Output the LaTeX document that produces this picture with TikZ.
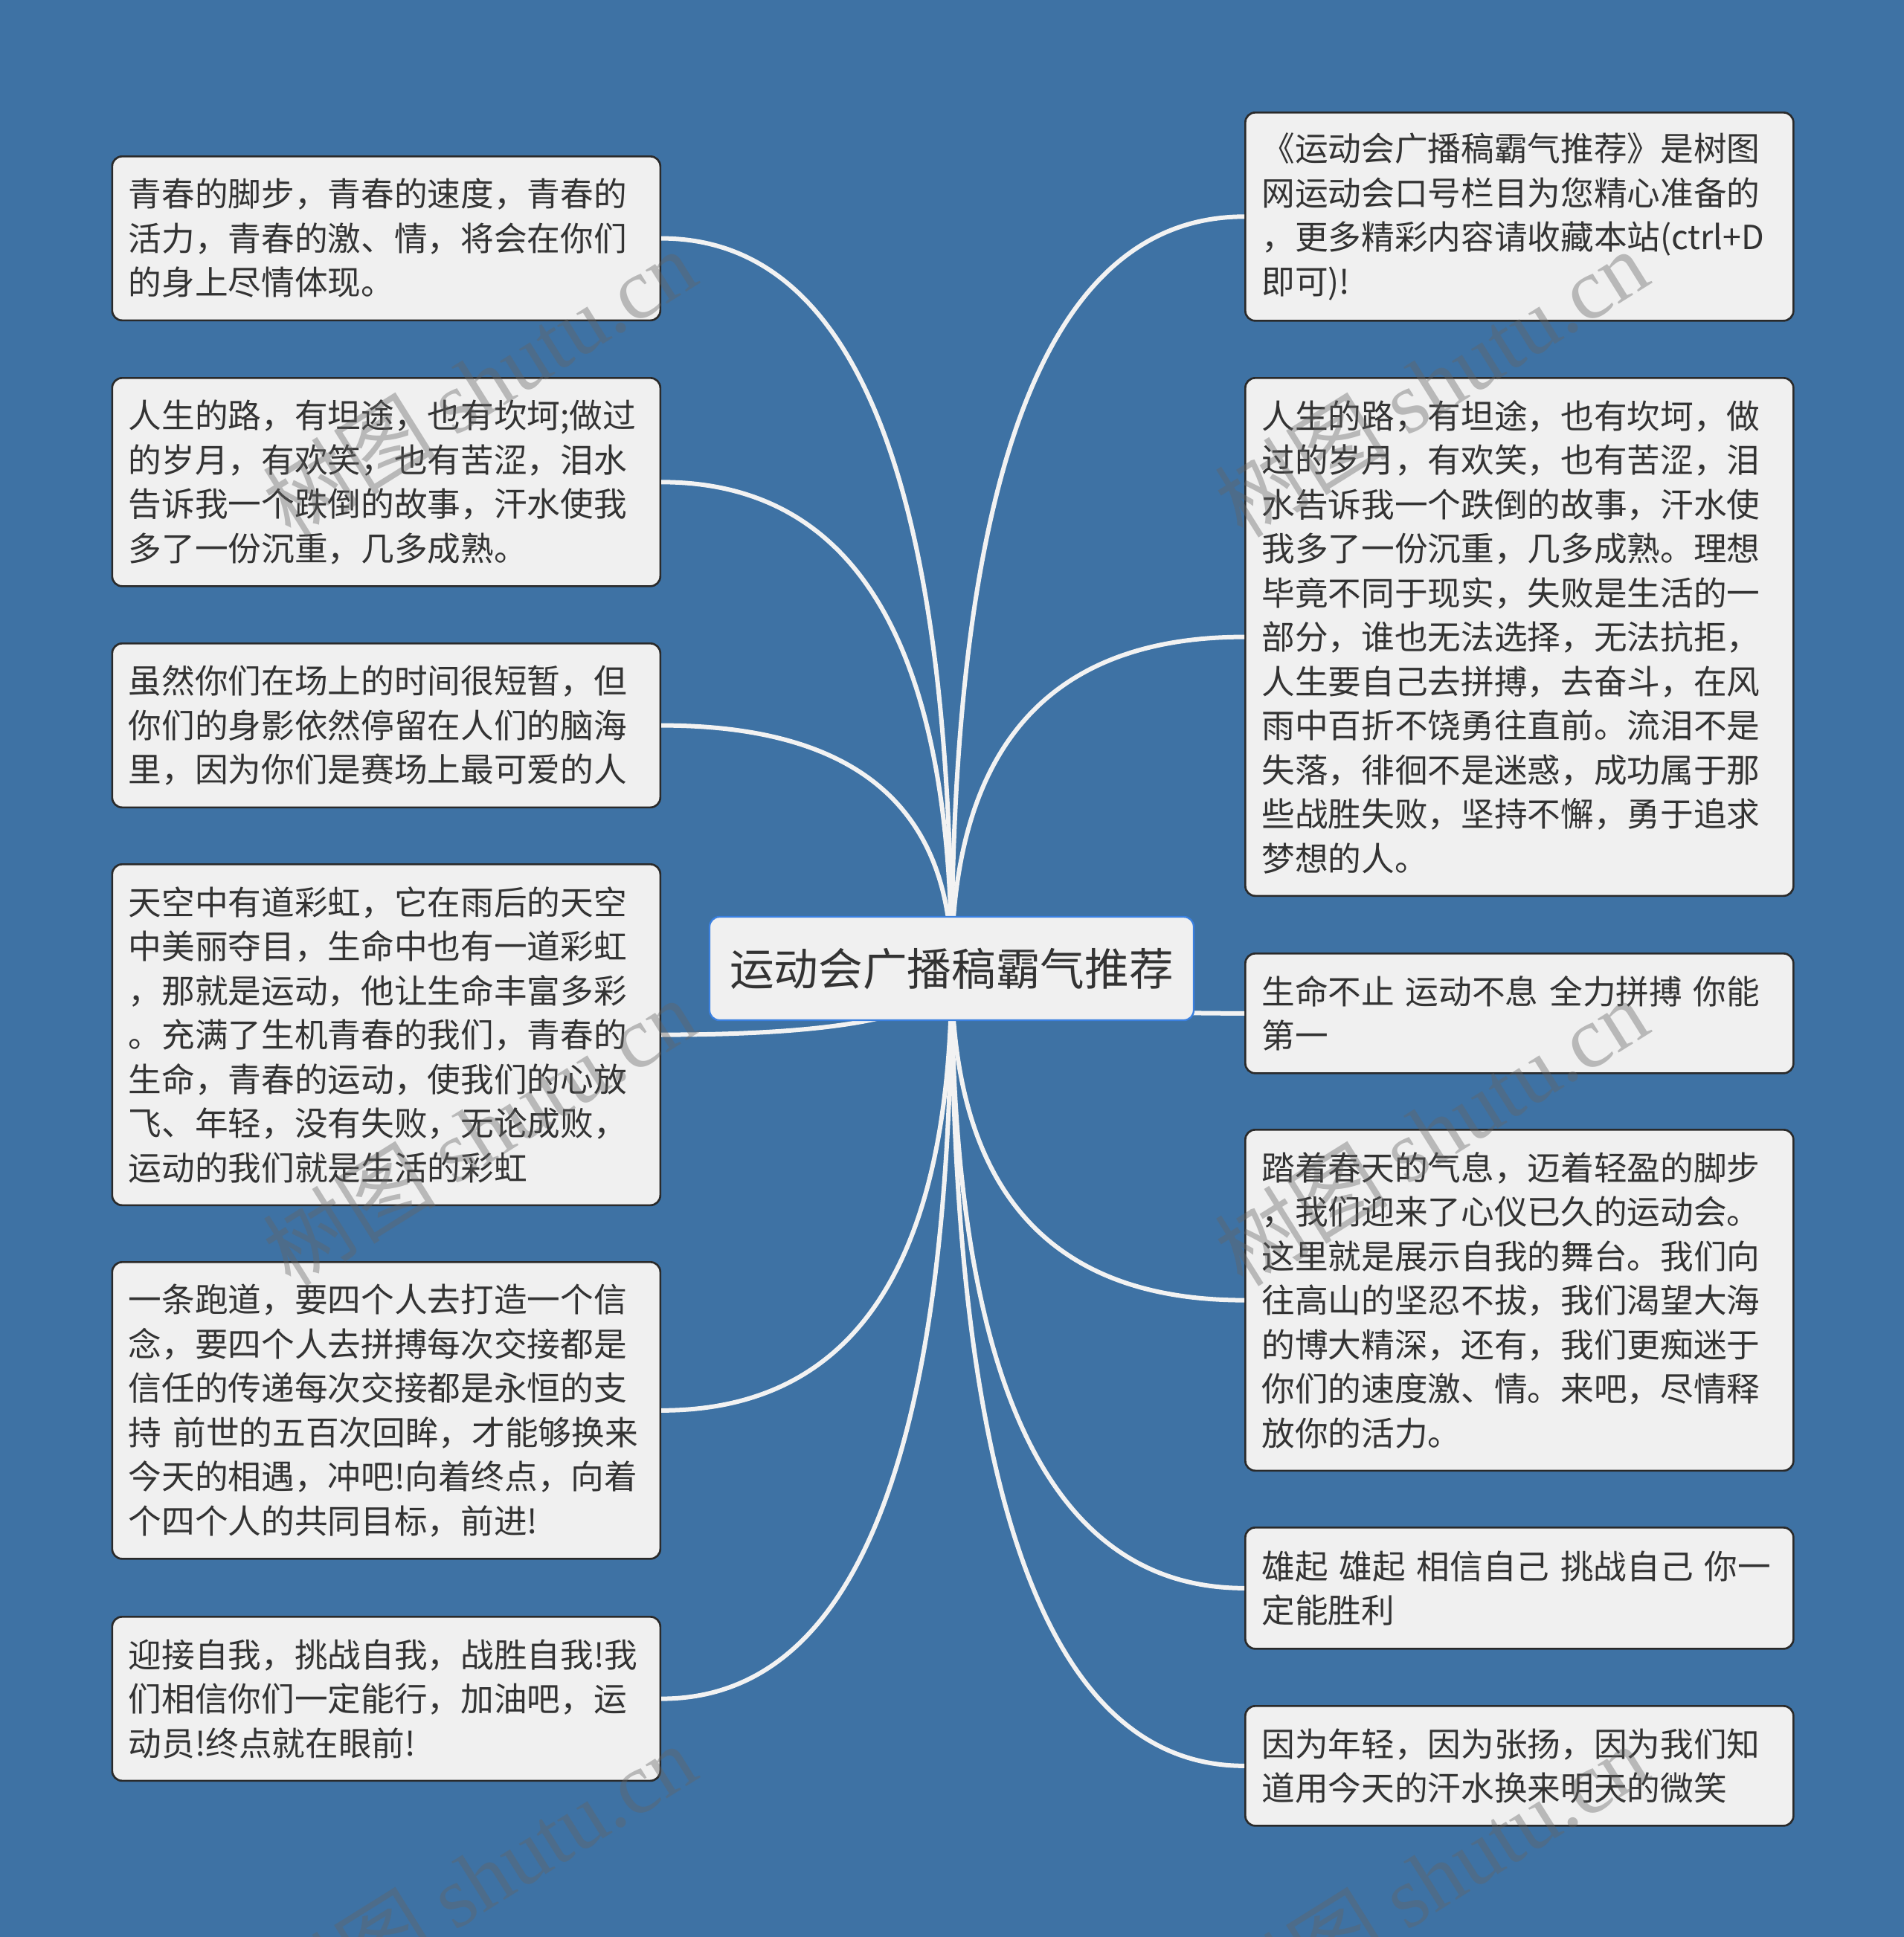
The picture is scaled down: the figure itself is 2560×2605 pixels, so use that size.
\documentclass[tikz,border=0pt]{standalone}
\usepackage{fontspec}
\setmainfont{Noto Sans CJK SC}
\newfontfamily\wmlatin{Liberation Serif}
\usetikzlibrary{calc}
\definecolor{bgblue}{HTML}{3E72A4}
\definecolor{boxfill}{HTML}{F0F0F0}
\definecolor{boxborder}{HTML}{2A2A2A}
\definecolor{rootborder}{HTML}{3A80E0}
\definecolor{txtcol}{HTML}{333333}
\definecolor{linecol}{HTML}{F2F2F2}
\definecolor{wmcol}{HTML}{646464}
\begin{document}
\begin{tikzpicture}[x=0.3pt,y=-0.3pt,
  box/.style={draw=boxborder, line width=0.8pt, fill=boxfill, rounded corners=4pt,
    anchor=north west, text width=207.9pt, inner xsep=6.6pt, inner ysep=0pt,
    align=left, text=txtcol, font=\fontsize{13.4pt}{17.85pt}\selectfont},
  rootbox/.style={draw=rootborder, line width=0.7pt, fill=boxfill, rounded corners=4pt,
    minimum width=195.3pt, minimum height=41.7pt, inner sep=0pt, text=txtcol,
    font=\fontsize{17.9pt}{21pt}\selectfont},
  conn/.style={draw=linecol, line width=1.8pt},
  wm/.style={text=wmcol, opacity=0.4, font=\fontsize{35pt}{38pt}\selectfont, inner sep=0pt}
]
\fill[bgblue] (0,0) rectangle (2560,2605);
\useasboundingbox (0,0) rectangle (2560,2605);

% root centre
\coordinate (rc) at (1279.5,1302.5);

% left boxes
\node[box, minimum height=66.15pt] (L1) at (149.5,209) {青春的脚步，青春的速度，青春的\\活力，青春的激、情，将会在你们\\的身上尽情体现。};
\node[box, minimum height=84pt] (L2) at (149.5,507) {人生的路，有坦途，也有坎坷;做过\\的岁月，有欢笑，也有苦涩，泪水\\告诉我一个跌倒的故事，汗水使我\\多了一份沉重，几多成熟。};
\node[box, minimum height=66.15pt] (L3) at (149.5,864) {虽然你们在场上的时间很短暂，但\\你们的身影依然停留在人们的脑海\\里，因为你们是赛场上最可爱的人};
\node[box, minimum height=137.55pt] (L4) at (149.5,1161) {天空中有道彩虹，它在雨后的天空\\中美丽夺目，生命中也有一道彩虹\\，那就是运动，他让生命丰富多彩\\。充满了生机青春的我们，青春的\\生命，青春的运动，使我们的心放\\飞、年轻，没有失败，无论成败，\\运动的我们就是生活的彩虹};
\node[box, minimum height=119.7pt] (L5) at (149.5,1696) {一条跑道，要四个人去打造一个信\\念，要四个人去拼搏每次交接都是\\信任的传递每次交接都是永恒的支\\持~前世的五百次回眸，才能够换来\\今天的相遇，冲吧!向着终点，向着\\个四个人的共同目标，前进!};
\node[box, minimum height=66.15pt] (L6) at (149.5,2173) {迎接自我，挑战自我，战胜自我!我\\们相信你们一定能行，加油吧，运\\动员!终点就在眼前!};

% right boxes
\node[box, minimum height=84pt] (R1) at (1673,150) {《运动会广播稿霸气推荐》是树图\\网运动会口号栏目为您精心准备的\\，更多精彩内容请收藏本站(ctrl+D\\即可)!};
\node[box, minimum height=208.95pt] (R2) at (1673,507) {人生的路，有坦途，也有坎坷，做\\过的岁月，有欢笑，也有苦涩，泪\\水告诉我一个跌倒的故事，汗水使\\我多了一份沉重，几多成熟。理想\\毕竟不同于现实，失败是生活的一\\部分，谁也无法选择，无法抗拒，\\人生要自己去拼搏，去奋斗，在风\\雨中百折不饶勇往直前。流泪不是\\失落，徘徊不是迷惑，成功属于那\\些战胜失败，坚持不懈，勇于追求\\梦想的人。};
\node[box, minimum height=48.3pt] (R3) at (1673,1281) {生命不止~运动不息~全力拼搏~你能\\第一};
\node[box, minimum height=137.55pt] (R4) at (1673,1518) {踏着春天的气息，迈着轻盈的脚步\\，我们迎来了心仪已久的运动会。\\这里就是展示自我的舞台。我们向\\往高山的坚忍不拔，我们渴望大海\\的博大精深，还有，我们更痴迷于\\你们的速度激、情。来吧，尽情释\\放你的活力。};
\node[box, minimum height=48.9pt] (R5) at (1673,2053) {雄起~雄起~相信自己~挑战自己~你一\\定能胜利};
\node[box, minimum height=48.3pt] (R6) at (1673,2293) {因为年轻，因为张扬，因为我们知\\道用今天的汗水换来明天的微笑};

% connectors (drawn before the root so the root covers their start)
\foreach \n in {L1,L2,L3,L4,L5,L6}{
  \draw[conn] (rc) .. controls ($(rc)!0.667!(rc |- \n.east)$) and ($(\n.east)!0.667!(rc |- \n.east)$) .. (\n.east);
}
\foreach \n in {R1,R2,R3,R4,R5,R6}{
  \draw[conn] (rc) .. controls ($(rc)!0.667!(rc |- \n.west)$) and ($(\n.west)!0.667!(rc |- \n.west)$) .. (\n.west);
}

\node[rootbox] (root) at (rc) {运动会广播稿霸气推荐};

% watermarks
\foreach \wx/\wy [count=\i] in {644/515,1924/515,644/1522,1924/1522,644/2525,1924/2525}{
  \node[wm, rotate=32] (wm\i) at (\wx,\wy) {树图 {\wmlatin shutu.cn}};
}
\end{tikzpicture}
\end{document}
